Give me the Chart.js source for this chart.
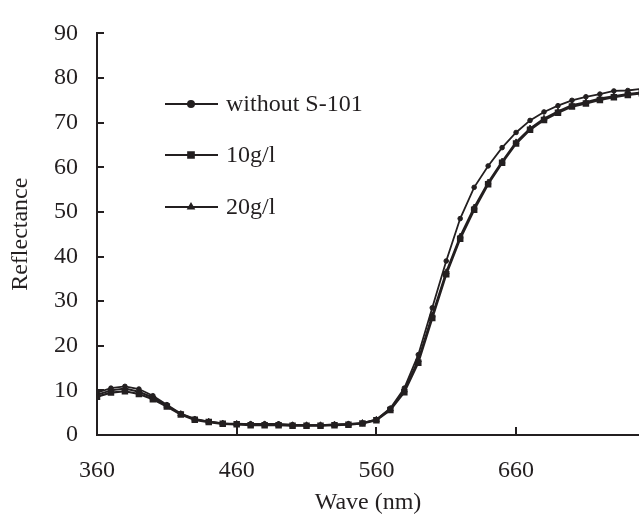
<!DOCTYPE html>
<html>
<head>
<meta charset="utf-8">
<script src="https://cdn.jsdelivr.net/npm/chart.js@4/dist/chart.umd.min.js"></script>
<style>
  html, body { margin: 0; padding: 0; background: #fff; overflow: hidden; }
  #wrap { width: 639px; height: 515px; position: relative; }
</style>
</head>
<body>
<div id="wrap"><canvas id="myChart"></canvas></div>
<script>
const waves = [360, 370, 380, 390, 400, 410, 420, 430, 440, 450,
               460, 470, 480, 490, 500, 510, 520, 530, 540, 550,
               560, 570, 580, 590, 600, 610, 620, 630, 640, 650,
               660, 670, 680, 690, 700, 710, 720, 730, 740, 750];

const withoutS101 = [9.5, 10.5, 10.9, 10.3, 8.8, 6.8, 4.8, 3.6, 3.0, 2.6,
                     2.4, 2.5, 2.5, 2.5, 2.3, 2.2, 2.2, 2.4, 2.5, 2.6,
                     3.5, 6.0, 10.5, 18.0, 28.5, 39.0, 48.5, 55.5, 60.3, 64.4,
                     67.8, 70.5, 72.4, 73.8, 75.0, 75.8, 76.4, 77.1, 77.2, 77.6];

const s10gl = [8.6, 9.5, 9.8, 9.2, 8.0, 6.4, 4.6, 3.4, 2.9, 2.5,
               2.4, 2.2, 2.2, 2.2, 2.1, 2.1, 2.1, 2.2, 2.3, 2.6,
               3.3, 5.6, 9.6, 16.2, 26.2, 36.0, 44.0, 50.5, 56.2, 61.0,
               65.3, 68.4, 70.6, 72.2, 73.6, 74.3, 75.1, 75.7, 76.2, 76.6];

const s20gl = [9.0, 10.0, 10.4, 9.7, 8.4, 6.6, 4.7, 3.5, 3.0, 2.6,
               2.5, 2.4, 2.4, 2.3, 2.2, 2.2, 2.2, 2.3, 2.4, 2.7,
               3.4, 5.8, 10.0, 16.8, 26.8, 36.5, 44.5, 51.0, 56.6, 61.3,
               65.6, 68.7, 70.9, 72.5, 73.9, 74.6, 75.4, 75.9, 76.4, 76.8];

const seriesNames = ['without S-101', '10g/l', '20g/l'];
const xTickValues = [360, 460, 560, 660];
const yTickValues = [0, 10, 20, 30, 40, 50, 60, 70, 80, 90];

const ink = '#231f20';
const serif = "'Liberation Serif', 'Times New Roman', serif";

function toPoints(vals) {
    return waves.map((w, i) => ({ x: w, y: vals[i] }));
}

// ticks point into the plot, so draw them by hand
const inwardTicks = {
    id: 'inwardTicks',
    afterDraw(chart) {
        const { ctx, chartArea, scales } = chart;
        ctx.save();
        ctx.strokeStyle = ink;
        ctx.lineWidth = 2;
        ctx.beginPath();
        yTickValues.forEach(v => {
            const y = Math.round(scales.y.getPixelForValue(v));
            ctx.moveTo(chartArea.left, y);
            ctx.lineTo(chartArea.left + 7, y);
        });
        xTickValues.forEach(v => {
            const x = Math.round(scales.x.getPixelForValue(v));
            ctx.moveTo(x, chartArea.bottom);
            ctx.lineTo(x, chartArea.bottom - 8);
        });
        ctx.stroke();
        ctx.restore();
    }
};

// legend sits inside the plot on the left
const innerLegend = {
    id: 'innerLegend',
    afterDraw(chart) {
        const { ctx } = chart;
        const rows = [104, 155, 207];
        ctx.save();
        ctx.font = '24px ' + serif;
        ctx.fillStyle = ink;
        ctx.textBaseline = 'middle';
        chart.data.datasets.forEach((ds, i) => {
            const y = rows[i];
            ctx.strokeStyle = ink;
            ctx.lineWidth = 2;
            ctx.beginPath();
            ctx.moveTo(165, y);
            ctx.lineTo(218, y);
            ctx.stroke();
            Chart.helpers.drawPoint(ctx, {
                pointStyle: ds.pointStyle,
                radius: ds.pointStyle === 'rect' ? 4 : 3,
                borderWidth: 1
            }, 191, y);
            ctx.fillStyle = ink;
            ctx.fillText(ds.label, 226, y + 1);
        });
        ctx.restore();
    }
};

const ctx = document.getElementById('myChart').getContext('2d');

const myChart = new Chart(ctx, {
    type: 'line',
    data: {
        datasets: [{
            label: seriesNames[0],
            data: toPoints(withoutS101),
            borderColor: ink,
            backgroundColor: ink,
            borderWidth: 1.8,
            pointStyle: 'circle',
            pointRadius: 2.3,
            pointBorderWidth: 1
        }, {
            label: seriesNames[1],
            data: toPoints(s10gl),
            borderColor: ink,
            backgroundColor: ink,
            borderWidth: 2.2,
            pointStyle: 'rect',
            pointRadius: 4.6,
            pointBorderWidth: 0
        }, {
            label: seriesNames[2],
            data: toPoints(s20gl),
            borderColor: ink,
            backgroundColor: ink,
            borderWidth: 2,
            pointStyle: 'triangle',
            pointRadius: 3.4,
            pointBorderWidth: 1
        }]
    },
    options: {
        responsive: true,
        maintainAspectRatio: false,
        animation: false,
        layout: { autoPadding: false, padding: { top: 23, right: 0, left: 0, bottom: 0 } },
        plugins: {
            legend: { display: false },
            tooltip: { enabled: false }
        },
        scales: {
            x: {
                type: 'linear',
                min: 360,
                max: 748,
                afterBuildTicks: axis => { axis.ticks = xTickValues.map(v => ({ value: v })); },
                afterFit: axis => {
                    axis.height = 80;
                    axis.paddingRight = 0;
                },
                grid: { display: false, drawTicks: false },
                border: { display: true, color: ink, width: 2 },
                ticks: {
                    color: ink,
                    font: { family: serif, size: 24 },
                    padding: 21,
                    maxRotation: 0
                },
                title: {
                    display: true,
                    text: 'Wave (nm)',
                    color: ink,
                    font: { family: serif, size: 24, lineHeight: 1 },
                    padding: { top: 0, bottom: 0 }
                }
            },
            y: {
                min: 0,
                max: 90,
                afterBuildTicks: axis => { axis.ticks = yTickValues.map(v => ({ value: v })); },
                afterFit: axis => { axis.width = 97; },
                grid: { display: false, drawTicks: false },
                border: { display: true, color: ink, width: 2 },
                ticks: {
                    color: ink,
                    font: { family: serif, size: 24 },
                    padding: 19
                },
                title: {
                    display: true,
                    text: 'Reflectance',
                    color: ink,
                    font: { family: serif, size: 24 },
                    padding: { top: 6, bottom: 0 }
                }
            }
        }
    },
    plugins: [inwardTicks, innerLegend]
});
</script>
</body>
</html>
